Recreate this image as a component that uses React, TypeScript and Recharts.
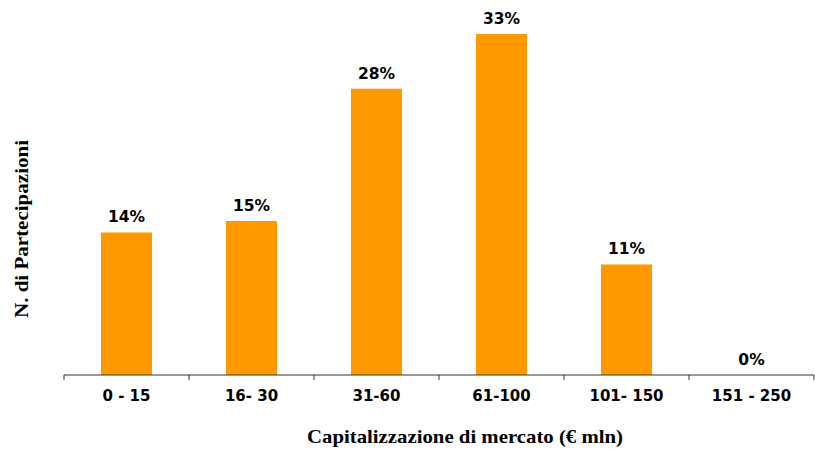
import React from 'react';
import { BarChart, Bar, XAxis, YAxis, LabelList, Label } from 'recharts';

const categories = ['0 - 15', '16- 30', '31-60', '61-100', '101- 150', '151 - 250'];
const shares = [13.8, 14.9, 27.7, 33.0, 10.7, 0];

const data = categories.map((c, i) => ({ range: c, share: shares[i] }));

const BAR_COLOR = '#FF9900';
const SANS = '"DejaVu Sans", Verdana, sans-serif';
const SERIF = '"Liberation Serif", "Times New Roman", serif';

const CategoryTick = (props: any) => {
  const { x, y, payload, index, visibleTicksCount, width } = props;
  const step = width / visibleTicksCount;
  const left = x - step / 2;
  return (
    <g>
      <line x1={left} y1={y} x2={left} y2={y + 5} stroke="#333" strokeWidth={1} />
      {index === visibleTicksCount - 1 && (
        <line x1={x + step / 2} y1={y} x2={x + step / 2} y2={y + 5} stroke="#333" strokeWidth={1} />
      )}
      <text x={x} y={y + 26} textAnchor="middle" fontFamily={SANS} fontWeight="bold" fontSize={15} fill="#000">
        {payload.value}
      </text>
    </g>
  );
};

const ValueLabel = (props: any) => {
  const { x, y, width, height, value } = props;
  return (
    <text x={x + width / 2} y={y + Math.min(height, 0) - 10} textAnchor="middle" fontFamily={SANS} fontWeight="bold" fontSize={15.5} fill="#000">
      {Math.round(value)}%
    </text>
  );
};

const AxisTitles = (p: any) => {
  const vb = p.viewBox;
  const cx = vb.x + vb.width / 2 + 26;
  return (
    <g>
      <text
        x={cx - 158}
        y={443}
        textLength={316}
        lengthAdjust="spacingAndGlyphs"
        fontFamily={SERIF}
        fontWeight="bold"
        fontSize={19}
        fill="#000"
      >
        Capitalizzazione di mercato (€ mln)
      </text>
      <text
        x={140}
        y={28}
        transform="rotate(-90 0 0) translate(-458 0)"
        textLength={178}
        lengthAdjust="spacingAndGlyphs"
        fontFamily={SERIF}
        fontWeight="bold"
        fontSize={19}
        fill="#000"
      >
        N. di Partecipazioni
      </text>
    </g>
  );
};

export default function App() {
  return (
    <div style={{ position: 'absolute', left: 0, top: 0, width: 815, height: 452, background: '#fff' }}>
      <BarChart width={815} height={452} data={data} margin={{ top: 34, right: 1, bottom: 0, left: 64 }} barSize={51}>
        <XAxis
          dataKey="range"
          height={77}
          axisLine={{ stroke: '#333', strokeWidth: 1 }}
          tickLine={false}
          tickSize={0}
          tickMargin={0}
          tick={<CategoryTick />}
          interval={0}
        >
          <Label content={<AxisTitles />} />
        </XAxis>
        <YAxis width={0} domain={[0, 33]} axisLine={false} tickLine={false} tick={false} />
        <Bar
          dataKey="share"
          fill={BAR_COLOR}
          isAnimationActive={false}
          minPointSize={(v: number) => (v === 0 ? 0.01 : 0)}
        >
          <LabelList dataKey="share" content={<ValueLabel />} />
        </Bar>
      </BarChart>
    </div>
  );
}
